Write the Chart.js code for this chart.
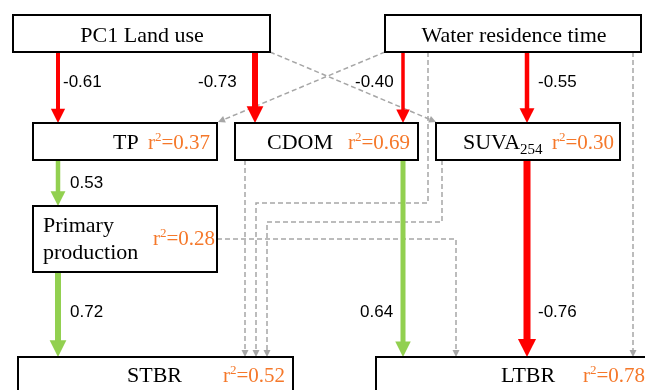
<!DOCTYPE html>
<html>
<head>
<meta charset="utf-8">
<script src="https://cdn.jsdelivr.net/npm/chart.js@4"></script>
<style>
  html, body { margin: 0; padding: 0; background: #fff; }
  canvas { display: block; }
</style>
</head>
<body>
<canvas id="pathChart" width="645" height="390"></canvas>
<script>
// Nodes of the path model and their explained variance
const nodeNames = ["PC1 Land use", "Water residence time", "TP", "CDOM", "SUVA254", "Primary production", "STBR", "LTBR"];
const nodeR2 = [null, null, 0.37, 0.69, 0.30, 0.28, 0.52, 0.78];

// Significant paths (solid arrows) and their coefficients
const sigFrom = ["PC1 Land use", "PC1 Land use", "Water residence time", "Water residence time", "TP", "Primary production", "CDOM", "SUVA254"];
const sigTo = ["TP", "CDOM", "CDOM", "SUVA254", "Primary production", "STBR", "LTBR", "LTBR"];
const sigCoef = [-0.61, -0.73, -0.40, -0.55, 0.53, 0.72, 0.64, -0.76];

// Non-significant paths (grey dashed arrows)
const nsFrom = ["PC1 Land use", "Water residence time", "Water residence time", "SUVA254", "CDOM", "Primary production", "Water residence time"];
const nsTo = ["SUVA254", "TP", "STBR", "STBR", "STBR", "LTBR", "LTBR"];

// ---- layout (pixel space of the hidden scales) ----
const boxes = {
    "PC1 Land use": { x0: 13, y0: 15, x1: 270, y1: 52, label: [142, 42, "center"] },
    "Water residence time": { x0: 385, y0: 15, x1: 641, y1: 52, label: [514, 42, "center"] },
    "TP": { x0: 33, y0: 123, x1: 217, y1: 160, label: [113, 149], r2: [148, 149] },
    "CDOM": { x0: 235, y0: 123, x1: 418, y1: 160, label: [267, 149], r2: [348, 149] },
    "SUVA254": { x0: 436, y0: 123, x1: 620, y1: 160, label: [463, 149], r2: [552, 149] },
    "Primary production": { x0: 33, y0: 206, x1: 217, y1: 272, label: [43, 232], wrap: 27, r2: [153, 245] },
    "STBR": { x0: 18, y0: 357, x1: 293, y1: 400, label: [127, 382], r2: [223, 382] },
    "LTBR": { x0: 376, y0: 357, x1: 660, y1: 400, label: [501, 382], r2: [583, 382] }
};

const sigRoutes = [
    [[58, 52], [58, 123]],
    [[255, 52], [255, 123]],
    [[403, 52], [403, 123]],
    [[527, 52], [527, 123]],
    [[58, 160], [58, 206]],
    [[58, 272], [58, 357]],
    [[403, 160], [403, 357]],
    [[527, 160], [527, 357]]
];
const sigWidths = [4, 6, 3.5, 4.5, 4.5, 6, 5, 7];
const sigLabelPos = [[63, 87], [198, 87], [355, 87], [538, 87], [70, 188], [70, 317], [360, 317], [538, 317]];

const nsRoutes = [
    [[270, 52], [436, 122]],
    [[385, 52], [218, 122]],
    [[428, 52], [428, 203], [256, 203], [256, 357]],
    [[442, 160], [442, 222], [267, 222], [267, 357]],
    [[245, 160], [245, 357]],
    [[217, 239], [456, 239], [456, 357]],
    [[633, 52], [633, 357]]
];

const RED = "#ff0000";
const GREEN = "#92d050";
const GREY = "#a6a6a6";
const ORANGE = "#f5782a";
const SERIF = "'Liberation Serif', 'Times New Roman', serif";
const SANS = "'Liberation Sans', Arial, sans-serif";

// Build a line dataset that stops where the arrowhead begins
function arrowDataset(route, color, width, dashed, headLen, headWid, order) {
    let pts = route.map(p => ({ x: p[0], y: p[1] }));
    let tip = pts[pts.length - 1];
    let prev = pts[pts.length - 2];
    let dx = tip.x - prev.x, dy = tip.y - prev.y;
    let len = Math.hypot(dx, dy);
    let ux = dx / len, uy = dy / len;
    let cut = headLen * 0.8;
    pts[pts.length - 1] = { x: tip.x - ux * cut, y: tip.y - uy * cut };
    return {
        data: pts,
        showLine: true,
        borderColor: color,
        borderWidth: width,
        borderDash: dashed ? [5, 3] : [],
        pointRadius: 0,
        tension: 0,
        order: order,
        arrowTip: tip,
        arrowFrom: prev,
        headLen: headLen,
        headWid: headWid
    };
}

let datasets = [];
sigFrom.forEach((from, i) => {
    let w = sigWidths[i];
    let color = sigCoef[i] < 0 ? RED : GREEN;
    let head = 9 + 1.3 * w;
    datasets.push(arrowDataset(sigRoutes[i], color, w, false, head, head, 0));
});
nsFrom.forEach((from, i) => {
    datasets.push(arrowDataset(nsRoutes[i], GREY, 1.5, true, 7, 7, 1));
});

// Arrowheads drawn right after each line
const arrowHeads = {
    id: "arrowHeads",
    afterDatasetDraw(chart, args) {
        let ds = chart.data.datasets[args.index];
        let xs = chart.scales.x, ys = chart.scales.y;
        let tx = xs.getPixelForValue(ds.arrowTip.x), ty = ys.getPixelForValue(ds.arrowTip.y);
        let fx = xs.getPixelForValue(ds.arrowFrom.x), fy = ys.getPixelForValue(ds.arrowFrom.y);
        let a = Math.atan2(ty - fy, tx - fx);
        let ctx = chart.ctx;
        ctx.save();
        ctx.translate(tx, ty);
        ctx.rotate(a);
        ctx.beginPath();
        ctx.moveTo(0, 0);
        ctx.lineTo(-ds.headLen, -ds.headWid / 2);
        ctx.lineTo(-ds.headLen, ds.headWid / 2);
        ctx.closePath();
        ctx.fillStyle = ds.borderColor;
        ctx.fill();
        ctx.restore();
    }
};

// draw "r²=0.37" starting at x
function drawR2(ctx, value, x, y) {
    ctx.fillStyle = ORANGE;
    ctx.textAlign = "left";
    ctx.font = "21px " + SERIF;
    ctx.fillText("r", x, y);
    x += ctx.measureText("r").width;
    ctx.font = "13px " + SERIF;
    ctx.fillText("2", x, y - 8);
    x += ctx.measureText("2").width;
    ctx.font = "21px " + SERIF;
    ctx.fillText("=" + value.toFixed(2), x, y);
}

// Node boxes, their labels and the path coefficients
const nodesAndLabels = {
    id: "nodesAndLabels",
    afterDatasetsDraw(chart) {
        let ctx = chart.ctx;
        let xs = chart.scales.x, ys = chart.scales.y;
        ctx.save();
        ctx.textBaseline = "alphabetic";
        nodeNames.forEach((name, i) => {
            let b = boxes[name];
            let x0 = xs.getPixelForValue(b.x0), x1 = xs.getPixelForValue(b.x1);
            let y0 = ys.getPixelForValue(b.y0), y1 = ys.getPixelForValue(b.y1);
            ctx.fillStyle = "#fff";
            ctx.fillRect(x0, y0, x1 - x0, y1 - y0);
            ctx.strokeStyle = "#000";
            ctx.lineWidth = 2;
            ctx.strokeRect(x0, y0, x1 - x0, y1 - y0);

            ctx.fillStyle = "#000";
            ctx.font = "22px " + SERIF;
            let lx = xs.getPixelForValue(b.label[0]), ly = ys.getPixelForValue(b.label[1]);
            ctx.textAlign = b.label[2] || "left";
            let sub = name.match(/^([A-Z]+)(\d+)$/);
            if (b.wrap) {
                name.split(" ").forEach((word, k) => ctx.fillText(word, lx, ly + k * b.wrap));
            } else if (sub) {
                ctx.fillText(sub[1], lx, ly);
                let w = ctx.measureText(sub[1]).width;
                ctx.font = "15px " + SERIF;
                ctx.fillText(sub[2], lx + w, ly + 5);
            } else {
                ctx.fillText(name, lx, ly);
            }
            if (nodeR2[i] !== null) {
                drawR2(ctx, nodeR2[i], xs.getPixelForValue(b.r2[0]), ys.getPixelForValue(b.r2[1]));
            }
        });

        ctx.fillStyle = "#000";
        ctx.textAlign = "left";
        ctx.font = "17px " + SANS;
        sigCoef.forEach((c, i) => {
            let p = sigLabelPos[i];
            ctx.fillText(c.toFixed(2), xs.getPixelForValue(p[0]), ys.getPixelForValue(p[1]));
        });
        ctx.restore();
    }
};

new Chart(document.getElementById("pathChart"), {
    type: "scatter",
    data: { datasets: datasets },
    options: {
        responsive: false,
        animation: false,
        layout: { padding: 0 },
        plugins: {
            legend: { display: false },
            tooltip: { enabled: false }
        },
        scales: {
            x: { type: "linear", min: 0, max: 645, display: false },
            y: { type: "linear", min: 0, max: 390, reverse: true, display: false }
        }
    },
    plugins: [arrowHeads, nodesAndLabels]
});
</script>
</body>
</html>
